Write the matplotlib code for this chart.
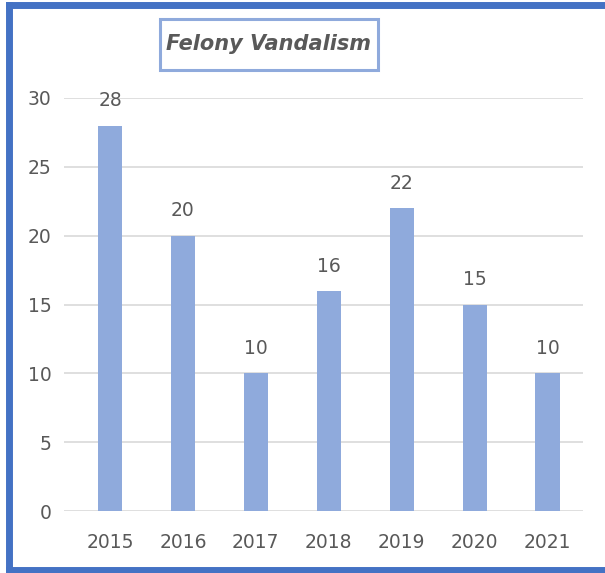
import matplotlib.pyplot as plt
import matplotlib.patches as mpatches
from matplotlib.lines import Line2D

# data
years = ["2015", "2016", "2017", "2018", "2019", "2020", "2021"]
counts = [28, 20, 10, 16, 22, 15, 10]

BAR_COLOR = "#8faadc"
TEXT_COLOR = "#595959"
BORDER_COLOR = "#4472c4"
W, H = 605, 573

fig = plt.figure(figsize=(W / 100, H / 100), dpi=100)
ax = fig.add_axes([0.106, 0.108, 0.858, 0.721])

x = range(len(years))
ax.bar(x, counts, width=0.33, color=BAR_COLOR, zorder=2)

# labels above bars
for i, v in enumerate(counts):
    ax.annotate(str(v), (i, v), xytext=(0, 11), textcoords="offset points",
                ha="center", va="bottom", fontsize=13.5, color=TEXT_COLOR)

ax.set_xlim(-0.63, 6.49)
ax.set_ylim(0, 30)
ax.set_yticks(range(0, 31, 5))
ax.set_xticks(list(x))
ax.set_xticklabels(years)
ax.tick_params(axis="both", length=0, labelsize=13.5, labelcolor=TEXT_COLOR)
ax.tick_params(axis="y", pad=9)
ax.tick_params(axis="x", pad=16)
ax.yaxis.grid(True, color="#d9d9d9", linewidth=1.2, zorder=0)
ax.set_axisbelow(True)
for s in ax.spines.values():
    s.set_visible(False)

# title box (pixel coords -> figure fraction)
bx0, bx1, by0, by1 = 160, 378, 19, 70
fig.patches.append(mpatches.Rectangle((bx0 / W, 1 - by1 / H), (bx1 - bx0) / W, (by1 - by0) / H,
                                      transform=fig.transFigure, facecolor="white",
                                      edgecolor=BAR_COLOR, linewidth=2.2))
fig.text((bx0 + bx1) / 2 / W, 1 - (by0 + by1) / 2 / H, "Felony Vandalism",
         ha="center", va="center", fontsize=15, fontweight="bold",
         fontstyle="italic", color=TEXT_COLOR)

# blue frame: top, left, bottom only
fx_left = 9 / W
fy_top = 1 - 5 / H
fy_bot = 3 / H
for xs, ys in [((fx_left, 1.0), (fy_top, fy_top)),
               ((fx_left, fx_left), (fy_bot, fy_top)),
               ((fx_left, 1.0), (fy_bot, fy_bot))]:
    fig.add_artist(Line2D(xs, ys, transform=fig.transFigure, color=BORDER_COLOR,
                          linewidth=5, solid_capstyle="projecting"))

fig.savefig("out.png", dpi=100)
